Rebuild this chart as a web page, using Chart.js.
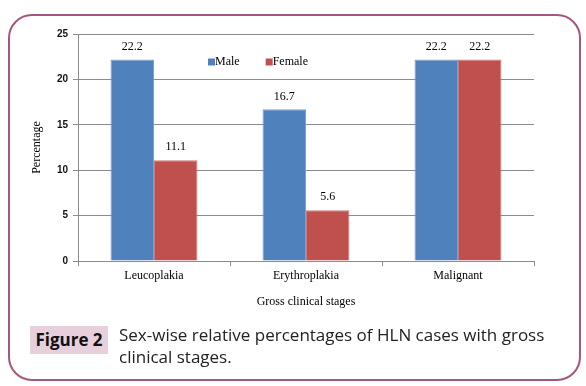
<!DOCTYPE html>
<html>
<head>
<meta charset="utf-8">
<script src="https://cdn.jsdelivr.net/npm/chart.js@4"></script>
<style>
body{margin:0;background:#fff;width:586px;height:386px;overflow:hidden;position:relative}
#frame{position:absolute;left:8px;top:14px;width:569px;height:363px;border:2px solid #a3567f;border-radius:24px}
#wrap{position:absolute;left:0;top:0;width:586px;height:386px}
#figbox{position:absolute;left:30px;top:326px;width:78px;height:28px;background:#e8cfdc;font:bold 17px "Open Sans",sans-serif;color:#111;text-align:center;line-height:28px}
#cap{position:absolute;left:119px;top:324px;font:17px "Open Sans",sans-serif;color:#222;line-height:22px;white-space:nowrap}
</style>
</head>
<body>
<div id="frame"></div>
<div id="wrap"><canvas id="c"></canvas></div>
<div id="figbox">Figure 2</div>
<div id="cap">Sex-wise relative percentages of HLN cases with gross<br>clinical stages.</div>
<script>
const stages=["Leucoplakia","Erythroplakia","Malignant"]
const male=[22.2,16.7,22.2]
const female=[11.1,5.6,22.2]
const yTicks=[0,5,10,15,20,25]

const serif="'Liberation Serif','Times New Roman',serif"

const barLabels={
  id:"barLabels",
  afterDatasetsDraw(chart){
    const ctx=chart.ctx
    ctx.save()
    ctx.font="12px "+serif
    ctx.fillStyle="#000"
    ctx.textAlign="center"
    ctx.textBaseline="middle"
    chart.data.datasets.forEach((ds,i)=>{
      chart.getDatasetMeta(i).data.forEach((bar,j)=>{
        ctx.fillText(ds.data[j].toFixed(1),bar.x,bar.y-13)
      })
    })
    ctx.restore()
  }
}

const innerLegend={
  id:"innerLegend",
  afterDraw(chart){
    const ctx=chart.ctx,a=chart.chartArea
    ctx.save()
    ctx.font="12px "+serif
    ctx.textBaseline="middle"
    let x=a.left+130,y=a.top+28
    chart.data.datasets.forEach(ds=>{
      ctx.fillStyle=ds.backgroundColor
      ctx.fillRect(x,y-3.5,7,7)
      ctx.fillStyle="#000"
      ctx.fillText(ds.label,x+7,y)
      x+=7+ctx.measureText(ds.label).width+26
    })
    ctx.restore()
  }
}

new Chart(document.getElementById("c"),{
  type:"bar",
  data:{
    labels:stages,
    datasets:[
      {label:"Male",data:male,backgroundColor:"#4f81bd",borderColor:"#7a9fd0",borderWidth:1},
      {label:"Female",data:female,backgroundColor:"#c0504d",borderColor:"#d07874",borderWidth:1}
    ]
  },
  options:{
    responsive:true,
    maintainAspectRatio:false,
    animation:false,
    layout:{padding:{left:20,top:34,right:52,bottom:75}},
    plugins:{legend:{display:false},tooltip:{enabled:false}},
    datasets:{bar:{categoryPercentage:0.572,barPercentage:1}},
    scales:{
      x:{
        grid:{drawOnChartArea:false,drawTicks:true,tickLength:5,color:"#8c8c8c",offset:true},
        border:{color:"#8c8c8c"},
        ticks:{color:"#000",font:{family:serif,size:12},padding:3},
        title:{display:true,text:"Gross clinical stages",color:"#000",font:{family:serif,size:12},padding:{top:0,bottom:2}},
        afterFit(s){s.height=50}
      },
      y:{
        min:0,max:25,
        afterBuildTicks(s){s.ticks=yTicks.map(v=>({value:v}))},
        grid:{color:"#8c8c8c",tickLength:5},
        border:{color:"#8c8c8c"},
        ticks:{color:"#111",font:{family:"'Liberation Sans',Arial,sans-serif",size:10,weight:"bold"},padding:5},
        title:{display:true,text:"Percentage",color:"#000",font:{family:serif,size:12},padding:{top:10,bottom:0}},
        afterFit(s){s.width=58}
      }
    }
  },
  plugins:[barLabels,innerLegend]
})
</script>
</body>
</html>
